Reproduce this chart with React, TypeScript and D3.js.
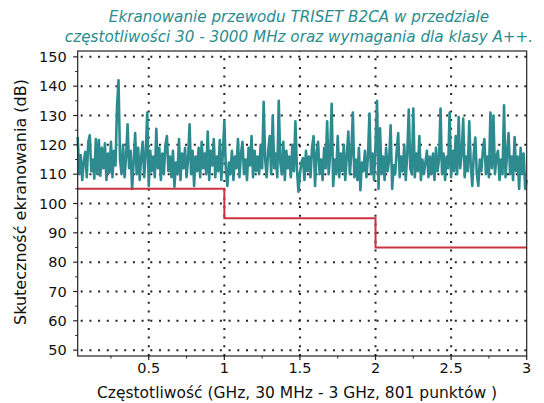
import React from "react";
import * as d3 from "d3";

const fStart = 0.03;
const fStep = 0.01;
const shielding = [
  122.7, 110, 116.5, 108, 114, 117.6, 109, 121, 123.3, 111,
  115, 108.5, 122, 110, 121.6, 109.5, 119, 112, 120.5, 108,
  117, 110.5, 121, 109, 118, 113, 133, 142, 115, 110,
  120, 109, 116, 127, 112, 118, 105, 114, 124, 110,
  119, 108, 116, 121, 109, 117, 131, 106, 118, 111,
  116, 109, 125.5, 112, 119, 108, 117, 110, 120, 123,
  111, 116, 109, 118, 105.7, 114, 110, 122, 108, 117,
  112, 119, 109, 115, 127, 110, 118, 106, 116, 111,
  119, 109, 121, 112, 117, 110, 124.5, 108, 118, 113,
  122, 109, 116, 111, 121.6, 108, 117, 128, 112, 106,
  114, 110, 118, 108, 116, 112, 122, 109, 117, 121,
  110, 115, 108, 119, 113, 123, 109, 118, 111, 116,
  110, 120, 112, 134.7, 115, 109, 118, 123, 110, 130,
  112, 117, 109, 135, 114, 110, 121, 108, 118, 112,
  116, 109, 120, 111, 128, 112, 104, 110, 114, 115.5,
  108, 118, 111, 116, 109, 119, 123, 106, 117, 121,
  110, 115, 108, 119, 112, 128, 110, 117, 134, 106,
  115, 110, 123, 109, 117, 111, 120, 108, 116, 124.5,
  110, 117, 131, 109, 115, 108, 119, 104.5, 114, 111,
  118, 109, 116, 130.7, 110, 117, 108, 120, 135, 105,
  125.6, 110, 116, 108, 119, 111, 115, 126.7, 105, 113,
  110, 118, 124, 109, 116, 111, 120, 108, 117, 132,
  112, 110, 132.4, 109, 117, 111, 123, 108, 115, 110,
  114, 118, 109, 116, 110, 117, 108, 119, 111, 115,
  132.4, 110, 117, 108, 116, 112, 131, 109, 118, 111,
  123, 110, 129.5, 112, 117, 129, 109, 116, 111, 128,
  113, 106, 117, 122.5, 110, 106, 115, 111, 118, 122,
  110, 116, 109, 131, 112, 130, 110, 116, 118, 108,
  115, 110, 133.5, 109, 117, 124, 110, 116, 108, 122.7,
  111, 116, 105, 119, 110, 117, 105, 108,
];

// class A++ requirement (step limits)
const limitFreq = [0.03, 1, 1, 2, 2, 3];
const limitDb = [105, 105, 95, 95, 85, 85];

const xTicks = [0.5, 1, 1.5, 2, 2.5, 3];
const xMinor = [0.25, 0.75, 1.25, 1.75, 2.25, 2.75];
const yTicks = [50, 60, 70, 80, 90, 100, 110, 120, 130, 140, 150];
const yMinor = [55, 65, 75, 85, 95, 105, 115, 125, 135, 145];

const titleLines = [
  "Ekranowanie przewodu TRISET B2CA w przedziale",
  "częstotliwości 30 - 3000 MHz oraz wymagania dla klasy A++.",
];

const W = 544;
const H = 403;
const left = 77.7;
const right = 526.7;
const top = 51;
const bottom = 356;
const font = "'DejaVu Sans', 'Open Sans', sans-serif";

export default function App() {
  const x = d3.scaleLinear().domain([0.03, 3]).range([left, right]);
  const y = d3.scaleLinear().domain([48, 152]).range([bottom, top]);

  const measured = shielding.map((v, i) => [fStart + i * fStep, v] as [number, number]);
  const limit = limitFreq.map((f, i) => [f, limitDb[i]] as [number, number]);

  const line = d3
    .line<[number, number]>()
    .x((d) => x(d[0]))
    .y((d) => y(d[1]));

  const gridStyle = { stroke: "#222", strokeWidth: 2, strokeDasharray: "2 6.7" };

  return (
    <svg width={W} height={H} style={{ position: "absolute", left: 0, top: 0 }} fontFamily={font}>
      <rect width={W} height={H} fill="#fff" />

      {/* title */}
      {titleLines.map((t, i) => (
        <text key={t} x={299} y={22 + i * 19.5} textAnchor="middle" fontSize={15.2} fontStyle="italic" fill="#2b8c8e">
          {t}
        </text>
      ))}

      {/* grid */}
      {yTicks.map((t) => (
        <line key={"gy" + t} x1={left + 3} x2={right} y1={y(t)} y2={y(t)} style={gridStyle} />
      ))}
      {xTicks.filter((t) => t < 3).map((t) => (
        <line key={"gx" + t} x1={x(t)} x2={x(t)} y1={bottom} y2={top} style={gridStyle} />
      ))}

      {/* data */}
      <path d={line(measured) || ""} fill="none" stroke="#2d8b90" strokeWidth={2.6} strokeLinejoin="round" />
      <path d={line(limit) || ""} fill="none" stroke="#cc3340" strokeWidth={2} />

      {/* frame */}
      <rect x={left} y={top} width={right - left} height={bottom - top} fill="none" stroke="#222" strokeWidth={1.2} />

      {/* y axis */}
      {yTicks.map((t) => (
        <g key={"yt" + t}>
          <line x1={left - 4.5} x2={left} y1={y(t)} y2={y(t)} stroke="#222" strokeWidth={1.2} />
          <text x={left - 11} y={y(t)} dy="0.36em" textAnchor="end" fontSize={14.5} fill="#111">
            {t}
          </text>
        </g>
      ))}
      {yMinor.map((t) => (
        <line key={"ym" + t} x1={left - 2.5} x2={left} y1={y(t)} y2={y(t)} stroke="#222" strokeWidth={1} />
      ))}

      {/* x axis */}
      {xTicks.map((t) => (
        <g key={"xt" + t}>
          <line x1={x(t)} x2={x(t)} y1={bottom} y2={bottom + 4} stroke="#222" strokeWidth={1.2} />
          <text x={x(t)} y={373} textAnchor="middle" fontSize={14.5} fill="#111">
            {t}
          </text>
        </g>
      ))}
      {xMinor.map((t) => (
        <line key={"xm" + t} x1={x(t)} x2={x(t)} y1={bottom} y2={bottom + 2.5} stroke="#222" strokeWidth={1} />
      ))}

      <text x={297} y={398} textAnchor="middle" fontSize={15.5} fill="#111">
        Częstotliwość (GHz, 30 MHz - 3 GHz, 801 punktów )
      </text>
      <text transform={`translate(26,202) rotate(-90)`} textAnchor="middle" fontSize={16} fill="#111">
        Skuteczność ekranowania (dB)
      </text>
    </svg>
  );
}
